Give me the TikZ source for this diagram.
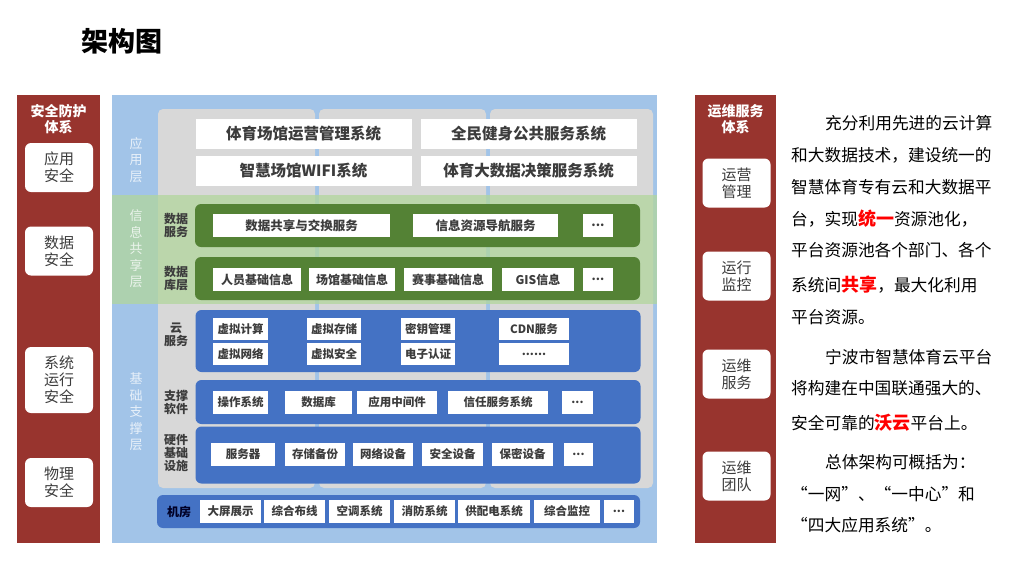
\documentclass[tikz,border=0pt]{standalone}
\usepackage{fontspec}
\setmainfont{Noto Sans CJK SC}

\definecolor{panelred}{RGB}{152,52,46}
\definecolor{bgblue}{RGB}{162,196,232}
\definecolor{colgray}{RGB}{216,216,216}
\definecolor{bandgreen}{RGB}{178,214,156}
\definecolor{bargreen}{RGB}{84,130,53}
\definecolor{barblue}{RGB}{68,114,196}
\definecolor{txtgray}{RGB}{60,60,60}
\definecolor{hired}{RGB}{255,0,0}

\newcommand\hl[1]{{\color{hired}\bfseries\fontsize{18}{18}\selectfont #1}}
\newcommand\qo{\makebox[1em][r]{“}}
\newcommand\qc{\makebox[1em][l]{”}}
\newcommand\more{...}
\newcommand\moredots{......}

\begin{document}
\begin{tikzpicture}[x=1pt, y=-1pt,
  paneltitle/.style={text=white, align=center, font=\bfseries\fontsize{14}{16}\selectfont},
  sidebox/.style={fill=white, rounded corners=6pt, minimum width=68, minimum height=49,
    align=center, text=txtgray, font=\fontsize{15}{17}\selectfont},
  layerlbl/.style={text=white, text opacity=0.75, align=center, font=\fontsize{13}{16.5}\selectfont},
  rowlbl/.style={text=txtgray, align=center, font=\bfseries\fontsize{12}{13}\selectfont},
  bar/.style={rounded corners=6pt, inner sep=0pt, minimum width=445},
  appbox/.style={fill=white, inner sep=0pt, minimum width=216, minimum height=30,
    text=txtgray, font=\bfseries\fontsize{15.5}{17}\selectfont},
  item/.style={fill=white, inner sep=0pt, minimum height=23, text=txtgray,
    font=\bfseries\fontsize{11.5}{13}\selectfont},
  body/.style={anchor=west, inner sep=0pt, font=\fontsize{16.7}{18}\selectfont}]

  \fill[white] (0,0) rectangle (1024,576);
  \useasboundingbox (0,0) rectangle (1024,576);

  \node[anchor=west, font=\bfseries\fontsize{27}{30}\selectfont] (title) at (78,41) {架构图};

  % left and right panels
  \fill[panelred] (17,95) rectangle (100,543);
  \fill[panelred] (695,95) rectangle (776,543);
  \node[paneltitle] (sectitle) at (58.5,119) {安全防护\\体系};
  \node[paneltitle] (opstitle) at (735.5,119) {运维服务\\体系};
  \foreach \y/\h/\t [count=\i] in {167.5/49/应用\\安全, 251/49/数据\\安全,
      380/66/系统\\运行\\安全, 482.5/49/物理\\安全}
    \node[sidebox, minimum height=\h] (sec\i) at (59,\y) {\t};
  \foreach \y/\t [count=\i] in {183/运营\\管理, 276/运行\\监控, 374/运维\\服务, 476/运维\\团队}
    \node[sidebox] (ops\i) at (736.5,\y) {\t};

  % centre background
  \fill[bgblue] (112,95) rectangle (657,543);
  \foreach \xa/\xb in {158/315, 319/486, 490/653}
    \fill[colgray, rounded corners=5pt] (\xa,109) rectangle (\xb,488);
  \fill[bandgreen, opacity=0.75] (112,195) rectangle (657,304);

  \node[layerlbl] (lapp) at (136,160) {应\\用\\层};
  \node[layerlbl] (linfo) at (136,249) {信\\息\\共\\享\\层};
  \node[layerlbl] (lbase) at (136,412) {基\\础\\支\\撑\\层};

  % application layer
  \foreach \x/\y/\t [count=\i] in {303.5/134/体育场馆运营管理系统, 528.5/134/全民健身公共服务系统,
      303.5/170.5/智慧场馆WIFI系统, 528.5/170.5/体育大数据决策服务系统}
    \node[appbox] (app\i) at (\x,\y) {\t};

  % information sharing layer
  \node[bar, fill=bargreen, minimum height=43] (datasvc) at (417.5,225.5) {};
  \node[rowlbl] (datasvclbl) at (176,225.5) {数据\\服务};
  \foreach \x/\w/\t [count=\i] in {301.5/177/数据共享与交换服务, 485.5/145/信息资源导航服务, 598/30/\more}
    \node[item, minimum width=\w, font=\bfseries\fontsize{12.5}{13}\selectfont] (ds\i) at (\x,225.5) {\t};

  \node[bar, fill=bargreen, minimum height=43] (database) at (417.5,278.5) {};
  \node[rowlbl] (databaselbl) at (176,278.5) {数据\\库层};
  \foreach \x/\w/\t [count=\i] in {257/88/人员基础信息, 352/86/场馆基础信息, 448/88/赛事基础信息,
      538/72/GIS信息, 598/30/\more}
    \node[item, minimum width=\w, font=\bfseries\fontsize{12}{13}\selectfont] (db\i) at (\x,279.5) {\t};

  % base support layer
  \node[bar, fill=barblue, minimum height=62] (cloud) at (418,341) {};
  \node[rowlbl] (cloudlbl) at (176,335) {云\\服务};
  \foreach \x/\w/\ta/\tb [count=\i] in {240.5/55/虚拟计算/虚拟网络, 334/54/虚拟存储/虚拟安全,
      428/54/密钥管理/电子认证, 534/70/CDN服务/\moredots}
    {\node[item, minimum width=\w, minimum height=22] (cla\i) at (\x,329) {\ta};
     \node[item, minimum width=\w, minimum height=22] (clb\i) at (\x,354) {\tb};}

  \node[bar, fill=barblue, minimum height=44] (support) at (418,402) {};
  \node[rowlbl] (supportlbl) at (176,402) {支撑\\软件};
  \foreach \x/\w/\t [count=\i] in {240.5/55/操作系统, 318.5/67/数据库, 397/80/应用中间件,
      498/100/信任服务系统, 577.5/31/\more}
    \node[item, minimum width=\w] (sw\i) at (\x,402.5) {\t};

  \node[bar, fill=barblue, minimum height=57] (hardware) at (418,455) {};
  \node[rowlbl] (hardwarelbl) at (176,453) {硬件\\基础\\设施};
  \foreach \x/\w/\t [count=\i] in {243/64/服务器, 315/60/存储备份, 383/60/网络设备,
      452.5/61/安全设备, 522.5/61/保密设备, 578.5/29/\more}
    \node[item, minimum width=\w] (hw\i) at (\x,454.5) {\t};

  \node[bar, fill=barblue, minimum width=483, minimum height=33] (room) at (398.5,511.5) {};
  \node[rowlbl, text=black!85!blue] (roomlbl) at (179,511.5) {机房};
  \foreach \x/\w/\t [count=\i] in {230.5/61/大屏展示, 294.5/61/综合布线, 359.5/61/空调系统,
      424.5/61/消防系统, 494/72/供配电系统, 567/66/综合监控, 619/30/\more}
    \node[item, minimum width=\w] (rm\i) at (\x,511.5) {\t};

  % description
  \node[body] (p1) at (825,123) {充分利用先进的云计算};
  \node[body] (p2) at (791,155) {和大数据技术，建设统一的};
  \node[body] (p3) at (791,187) {智慧体育专有云和大数据平};
  \node[body] (p4) at (791,219) {台，实现\hl{统一}资源池化，};
  \node[body] (p5) at (791,250) {平台资源池各个部门、各个};
  \node[body] (p6) at (791,285) {系统间\hl{共享}，最大化利用};
  \node[body] (p7) at (791,317) {平台资源。};
  \node[body] (p8) at (825,357) {宁波市智慧体育云平台};
  \node[body] (p9) at (791,388) {将构建在中国联通强大的、};
  \node[body] (p10) at (791,423) {安全可靠的\hl{沃云}平台上。};
  \node[body] (p11) at (825,462) {总体架构可概括为：};
  \node[body] (p12) at (791,494) {\qo 一网\qc 、\qo 一中心\qc 和};
  \node[body] (p13) at (791,525) {\qo 四大应用系统\qc 。};
\end{tikzpicture}
\end{document}
